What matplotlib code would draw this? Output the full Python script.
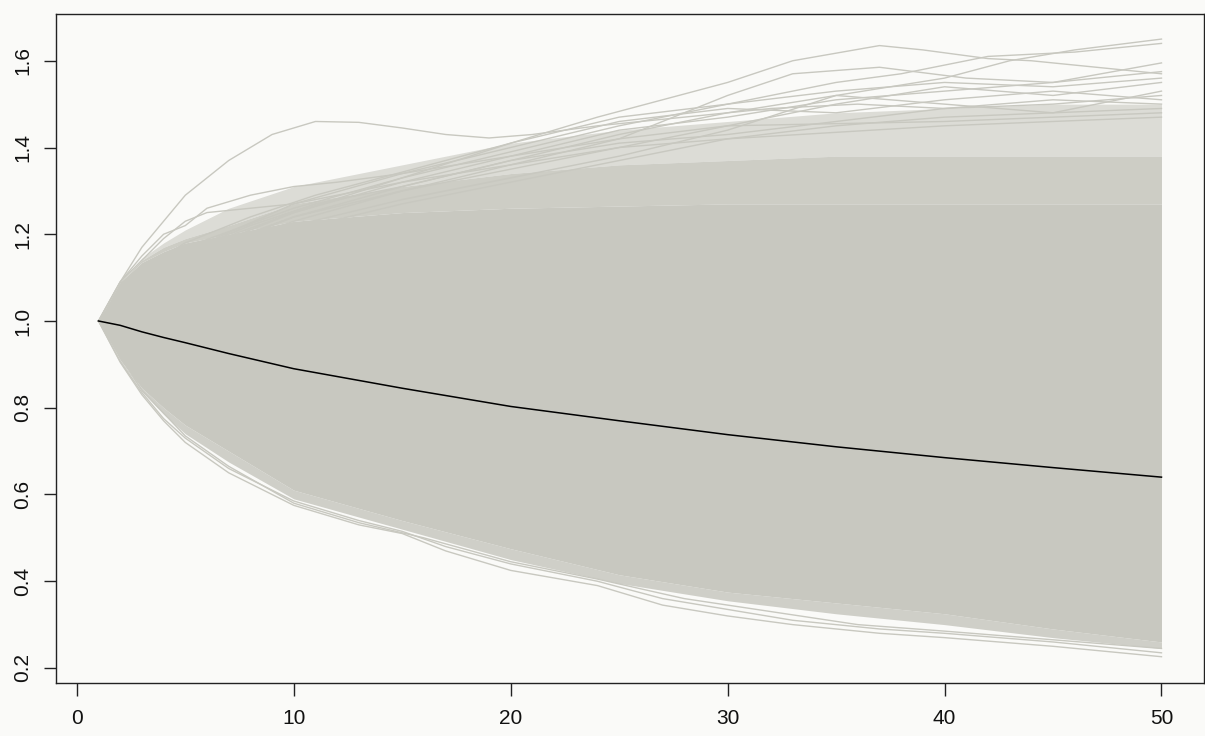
import matplotlib
matplotlib.use("Agg")
import matplotlib.pyplot as plt

x_grid = [1, 2, 3, 4, 5, 7, 10, 15, 20, 25, 30, 35, 40, 45, 50]

# mean path (black line)
mean_path = [1.0, 0.99, 0.975, 0.962, 0.95, 0.925, 0.89, 0.845, 0.803, 0.77, 0.738, 0.71, 0.685, 0.662, 0.64]

# solid part of the simulated paths
core_top = [1.0, 1.09, 1.135, 1.16, 1.18, 1.20, 1.23, 1.25, 1.26, 1.265, 1.27, 1.27, 1.27, 1.27, 1.27]
core_bottom = [1.0, 0.91, 0.845, 0.80, 0.76, 0.70, 0.61, 0.54, 0.475, 0.415, 0.375, 0.35, 0.325, 0.29, 0.26]

# streaky (many lines with gaps) part of the paths
dense_top = [1.0, 1.09, 1.14, 1.17, 1.19, 1.22, 1.27, 1.31, 1.34, 1.36, 1.37, 1.38, 1.38, 1.38, 1.38]
sparse_top = [1.0, 1.09, 1.145, 1.18, 1.21, 1.26, 1.31, 1.36, 1.41, 1.44, 1.46, 1.48, 1.49, 1.50, 1.50]
dense_bottom = [1.0, 0.908, 0.838, 0.785, 0.74, 0.675, 0.59, 0.52, 0.45, 0.395, 0.355, 0.325, 0.30, 0.27, 0.245]

# single outlying paths that stand out from the bundle
upper_paths = [
    ([1, 2, 3, 4, 5, 7, 9, 11, 13, 15, 17, 19, 21, 24, 28, 32, 36, 40, 45, 50],
     [1.0, 1.09, 1.17, 1.23, 1.29, 1.37, 1.43, 1.46, 1.458, 1.445, 1.43, 1.422, 1.43, 1.45, 1.47, 1.49, 1.50, 1.49, 1.50, 1.52]),
    ([1, 3, 5, 8, 11, 14, 17, 20, 24, 27, 30, 33, 37, 39, 42, 44, 47, 50],
     [1.0, 1.12, 1.18, 1.24, 1.29, 1.33, 1.37, 1.41, 1.47, 1.51, 1.55, 1.60, 1.635, 1.625, 1.605, 1.60, 1.585, 1.57]),
    ([1, 3, 5, 8, 11, 15, 20, 25, 30, 35, 40, 43, 46, 50],
     [1.0, 1.11, 1.16, 1.22, 1.27, 1.31, 1.37, 1.43, 1.48, 1.52, 1.56, 1.60, 1.625, 1.65]),
    ([1, 5, 10, 15, 20, 25, 30, 35, 38, 42, 46, 50],
     [1.0, 1.17, 1.26, 1.33, 1.39, 1.45, 1.50, 1.55, 1.57, 1.61, 1.62, 1.64]),
    ([1, 5, 10, 15, 20, 25, 30, 33, 37, 41, 45, 50],
     [1.0, 1.15, 1.24, 1.30, 1.36, 1.42, 1.52, 1.57, 1.585, 1.56, 1.55, 1.595]),
    ([1, 5, 10, 15, 20, 25, 30, 35, 40, 45, 50],
     [1.0, 1.16, 1.25, 1.32, 1.38, 1.44, 1.47, 1.51, 1.53, 1.55, 1.575]),
    ([1, 5, 10, 15, 20, 25, 30, 35, 40, 45, 50],
     [1.0, 1.14, 1.23, 1.30, 1.35, 1.40, 1.45, 1.50, 1.54, 1.52, 1.55]),
    ([1, 5, 10, 15, 20, 25, 30, 35, 40, 45, 50],
     [1.0, 1.15, 1.22, 1.28, 1.33, 1.38, 1.44, 1.52, 1.50, 1.48, 1.53]),
    ([1, 5, 10, 15, 20, 25, 30, 35, 40, 45, 50],
     [1.0, 1.14, 1.24, 1.31, 1.37, 1.41, 1.43, 1.46, 1.49, 1.51, 1.50]),
    ([1, 5, 10, 15, 20, 25, 30, 35, 40, 45, 50],
     [1.0, 1.13, 1.21, 1.27, 1.32, 1.37, 1.42, 1.45, 1.47, 1.48, 1.49]),
    ([1, 5, 10, 15, 20, 25, 30, 35, 40, 45, 50],
     [1.0, 1.16, 1.27, 1.34, 1.40, 1.46, 1.49, 1.48, 1.51, 1.53, 1.51]),
    ([1, 5, 10, 15, 20, 25, 30, 35, 40, 45, 50],
     [1.0, 1.15, 1.25, 1.33, 1.41, 1.47, 1.50, 1.53, 1.55, 1.54, 1.56]),
    ([1, 2, 3, 4, 5, 6, 8, 10, 12, 15, 20, 25, 30, 40, 50],
     [1.0, 1.09, 1.14, 1.19, 1.23, 1.25, 1.26, 1.27, 1.29, 1.32, 1.36, 1.40, 1.42, 1.45, 1.47]),
    ([1, 2, 3, 4, 5, 6, 8, 10, 12, 15, 20, 25, 30, 40, 50],
     [1.0, 1.09, 1.15, 1.20, 1.22, 1.26, 1.29, 1.31, 1.32, 1.34, 1.38, 1.42, 1.45, 1.46, 1.48]),
]
lower_paths = [
    ([1, 2, 3, 4, 5, 7, 10, 13, 15, 17, 20, 24, 27, 30, 33, 37, 40, 45, 50],
     [1.0, 0.905, 0.83, 0.77, 0.72, 0.65, 0.575, 0.53, 0.51, 0.47, 0.425, 0.39, 0.345, 0.32, 0.30, 0.28, 0.27, 0.25, 0.226]),
    ([1, 2, 3, 4, 5, 7, 10, 13, 15, 17, 20, 24, 27, 30, 33, 37, 40, 45, 50],
     [1.0, 0.907, 0.835, 0.775, 0.73, 0.66, 0.585, 0.54, 0.515, 0.48, 0.44, 0.40, 0.36, 0.335, 0.31, 0.29, 0.28, 0.26, 0.235]),
    ([1, 3, 5, 7, 10, 13, 16, 20, 24, 28, 32, 36, 40, 45, 50],
     [1.0, 0.84, 0.735, 0.665, 0.58, 0.535, 0.50, 0.445, 0.405, 0.36, 0.33, 0.30, 0.285, 0.265, 0.245]),
]

path_col = "#C8C8C0"
bg_col = "#FAFAF8"

fig = plt.figure(figsize=(12.05, 7.36), dpi=100, facecolor=bg_col)
ax = fig.add_axes([56 / 1205, 1 - 683 / 736, (1204 - 56) / 1205, (683 - 14) / 736])
ax.set_facecolor(bg_col)

ax.fill_between(x_grid, dense_top, sparse_top, color=path_col, alpha=0.6, lw=0)
ax.fill_between(x_grid, core_top, dense_top, color=path_col, alpha=0.9, lw=0)
ax.fill_between(x_grid, dense_bottom, core_bottom, color=path_col, alpha=0.85, lw=0)
ax.fill_between(x_grid, core_bottom, core_top, color=path_col, lw=0)

for xs, ys in upper_paths + lower_paths:
    ax.plot(xs, ys, color=path_col, lw=1.0)

ax.plot(x_grid, mean_path, color="black", lw=1.1)

ax.set_xlim(-0.96, 51.96)
ax.set_ylim(0.1654, 1.7078)
ax.set_xticks(range(0, 51, 10))
ax.set_yticks([0.2, 0.4, 0.6, 0.8, 1.0, 1.2, 1.4, 1.6])
ax.set_yticklabels(["0.2", "0.4", "0.6", "0.8", "1.0", "1.2", "1.4", "1.6"],
                   rotation=90, va="center")

for s in ax.spines.values():
    s.set_color("#222222")
    s.set_linewidth(1.0)
ax.tick_params(axis="both", length=9, width=1.0, color="#222222",
               labelsize=15, labelcolor="#111111")
ax.tick_params(axis="x", pad=10)
ax.tick_params(axis="y", pad=8)
for lab in ax.get_xticklabels() + ax.get_yticklabels():
    lab.set_family("Liberation Sans")

fig.savefig("out.png", dpi=100, facecolor=bg_col)
